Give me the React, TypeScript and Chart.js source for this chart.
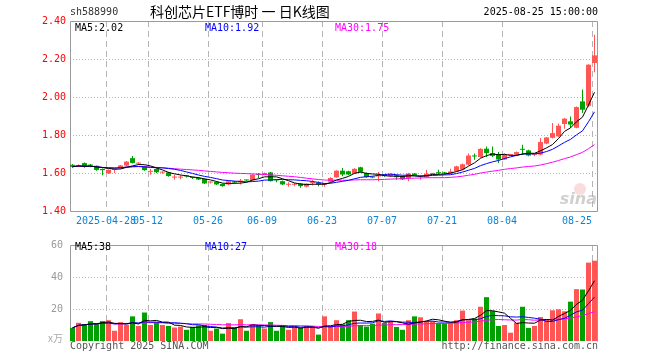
import { useEffect, useRef } from "react";
import { Chart, registerables } from "chart.js";

Chart.register(...registerables);

// ---------- data ----------
const dates: string[] = [
  "2025-04-18", "2025-04-21", "2025-04-22", "2025-04-23", "2025-04-24", "2025-04-25",
  "2025-04-28", "2025-04-29", "2025-04-30",
  "2025-05-06", "2025-05-07", "2025-05-08", "2025-05-09",
  "2025-05-12", "2025-05-13", "2025-05-14", "2025-05-15", "2025-05-16",
  "2025-05-19", "2025-05-20", "2025-05-21", "2025-05-22", "2025-05-23",
  "2025-05-26", "2025-05-27", "2025-05-28", "2025-05-29", "2025-05-30",
  "2025-06-03", "2025-06-04", "2025-06-05", "2025-06-06",
  "2025-06-09", "2025-06-10", "2025-06-11", "2025-06-12", "2025-06-13",
  "2025-06-16", "2025-06-17", "2025-06-18", "2025-06-19", "2025-06-20",
  "2025-06-23", "2025-06-24", "2025-06-25", "2025-06-26", "2025-06-27",
  "2025-06-30", "2025-07-01", "2025-07-02", "2025-07-03", "2025-07-04",
  "2025-07-07", "2025-07-08", "2025-07-09", "2025-07-10", "2025-07-11",
  "2025-07-14", "2025-07-15", "2025-07-16", "2025-07-17", "2025-07-18",
  "2025-07-21", "2025-07-22", "2025-07-23", "2025-07-24", "2025-07-25",
  "2025-07-28", "2025-07-29", "2025-07-30", "2025-07-31", "2025-08-01",
  "2025-08-04", "2025-08-05", "2025-08-06", "2025-08-07", "2025-08-08",
  "2025-08-11", "2025-08-12", "2025-08-13", "2025-08-14", "2025-08-15",
  "2025-08-18", "2025-08-19", "2025-08-20", "2025-08-21", "2025-08-22",
  "2025-08-25",
];

const opens: number[] = [
  1.643, 1.635, 1.652, 1.641, 1.638, 1.621, 1.598, 1.616, 1.626, 1.639,
  1.678, 1.649, 1.635, 1.606, 1.621, 1.602, 1.603, 1.576, 1.576, 1.584,
  1.576, 1.574, 1.569, 1.550, 1.553, 1.542, 1.540, 1.556, 1.555, 1.563,
  1.562, 1.592, 1.590, 1.603, 1.563, 1.557, 1.538, 1.538, 1.544, 1.528,
  1.547, 1.548, 1.538, 1.554, 1.577, 1.612, 1.609, 1.597, 1.630, 1.600,
  1.578, 1.582, 1.587, 1.583, 1.588, 1.583, 1.574, 1.597, 1.582, 1.578,
  1.595, 1.601, 1.602, 1.597, 1.609, 1.618, 1.644, 1.689, 1.684, 1.728,
  1.705, 1.700, 1.671, 1.695, 1.697, 1.724, 1.719, 1.695, 1.697, 1.755,
  1.785, 1.793, 1.858, 1.872, 1.838, 1.977, 1.954, 2.179,
];

const highs: number[] = [
  1.648, 1.645, 1.655, 1.647, 1.640, 1.624, 1.619, 1.621, 1.642, 1.663,
  1.690, 1.656, 1.638, 1.621, 1.624, 1.609, 1.606, 1.591, 1.588, 1.588,
  1.580, 1.577, 1.571, 1.557, 1.556, 1.545, 1.560, 1.558, 1.569, 1.565,
  1.594, 1.600, 1.602, 1.605, 1.569, 1.560, 1.551, 1.548, 1.547, 1.546,
  1.565, 1.557, 1.548, 1.577, 1.615, 1.626, 1.612, 1.625, 1.633, 1.603,
  1.582, 1.605, 1.590, 1.598, 1.591, 1.586, 1.600, 1.600, 1.588, 1.617,
  1.600, 1.617, 1.605, 1.623, 1.638, 1.650, 1.702, 1.702, 1.730, 1.740,
  1.740, 1.710, 1.702, 1.700, 1.713, 1.749, 1.722, 1.700, 1.784, 1.790,
  1.863, 1.860, 1.889, 1.898, 1.950, 2.039, 2.172, 2.328,
];

const lows: number[] = [
  1.628, 1.632, 1.628, 1.630, 1.612, 1.588, 1.595, 1.600, 1.622, 1.636,
  1.650, 1.642, 1.612, 1.591, 1.600, 1.596, 1.580, 1.565, 1.567, 1.576,
  1.568, 1.563, 1.542, 1.545, 1.537, 1.527, 1.535, 1.545, 1.540, 1.557,
  1.560, 1.574, 1.588, 1.555, 1.551, 1.537, 1.527, 1.530, 1.522, 1.525,
  1.534, 1.530, 1.527, 1.550, 1.575, 1.583, 1.588, 1.595, 1.603, 1.575,
  1.572, 1.557, 1.580, 1.580, 1.565, 1.563, 1.557, 1.585, 1.565, 1.575,
  1.592, 1.591, 1.592, 1.595, 1.606, 1.615, 1.640, 1.670, 1.680, 1.684,
  1.684, 1.653, 1.668, 1.692, 1.694, 1.696, 1.688, 1.688, 1.694, 1.751,
  1.781, 1.790, 1.833, 1.837, 1.835, 1.916, 1.947, 2.130,
];

const closes: number[] = [
  1.633, 1.641, 1.632, 1.639, 1.616, 1.615, 1.617, 1.617, 1.640, 1.660,
  1.653, 1.651, 1.615, 1.608, 1.604, 1.604, 1.584, 1.578, 1.578, 1.582,
  1.574, 1.566, 1.545, 1.552, 1.540, 1.531, 1.556, 1.550, 1.557, 1.561,
  1.591, 1.590, 1.600, 1.557, 1.561, 1.540, 1.540, 1.540, 1.531, 1.544,
  1.549, 1.540, 1.540, 1.574, 1.612, 1.592, 1.592, 1.622, 1.606, 1.578,
  1.576, 1.584, 1.585, 1.595, 1.578, 1.566, 1.597, 1.589, 1.584, 1.596,
  1.597, 1.599, 1.598, 1.608, 1.635, 1.646, 1.692, 1.687, 1.727, 1.705,
  1.690, 1.671, 1.699, 1.697, 1.710, 1.722, 1.692, 1.697, 1.763, 1.787,
  1.810, 1.849, 1.886, 1.855, 1.947, 1.933, 2.170, 2.219,
];

// volume in 万手
const volumes: number[] = [
  8.2, 11.4, 10.6, 12.4, 11.0, 12.4, 13.0, 6.4, 11.8, 10.2,
  15.4, 9.4, 17.8, 10.0, 11.8, 10.0, 9.4, 8.4, 9.0, 7.0,
  8.8, 9.8, 10.0, 6.4, 7.8, 4.6, 11.2, 8.4, 13.6, 6.4,
  10.6, 9.8, 7.8, 11.8, 6.4, 9.4, 7.0, 8.8, 8.4, 9.4,
  9.4, 4.0, 15.4, 9.4, 13.0, 10.4, 13.0, 18.4, 10.0, 9.0,
  10.8, 17.2, 11.2, 12.4, 8.8, 7.0, 13.0, 15.4, 14.8, 12.4,
  12.4, 11.2, 11.2, 11.2, 13.0, 19.0, 13.0, 14.0, 21.4, 27.4,
  18.8, 9.4, 10.0, 5.2, 11.4, 21.4, 8.2, 9.4, 15.0, 13.4,
  19.2, 19.8, 18.6, 24.6, 32.4, 32.2, 49.0, 50.2,
];

const priceTicks: number[] = [1.4, 1.6, 1.8, 2.0, 2.2, 2.4];
const volumeTicks: number[] = [0, 20, 40, 60];
const axisDates: string[] = [
  "2025-04-28", "2025-05-12", "2025-05-26", "2025-06-09", "2025-06-23",
  "2025-07-07", "2025-07-21", "2025-08-04", "2025-08-25",
];
const axisLabels: string[] = [
  "2025-04-28", "05-12", "05-26", "06-09", "06-23", "07-07", "07-21", "08-04", "08-25",
];

const symbol = "sh588990";
const title = "科创芯片ETF博时 一 日K线图";
const stamp = "2025-08-25 15:00:00";
const volumeUnit = "x万";

// ---------- styling ----------
const UP = "#ff5555";
const DOWN = "#00a000";
const MONO = '"DejaVu Sans Mono", monospace';
const CJK = '"Noto Sans CJK SC", sans-serif';
const HALF = 2.5 / 6;
const MA_COLORS = ["#000000", "#0000ff", "#ff00ff"];

function movingAverage(values: number[], n: number): number[] {
  return values.map((_, i) => {
    const s = Math.max(0, i - n + 1);
    let sum = 0;
    for (let j = s; j <= i; j++) sum += values[j];
    return sum / (i - s + 1);
  });
}

const candleColors = closes.map((c, i) => (c >= opens[i] ? UP : DOWN));
const gridIdx = axisDates.map((d) => dates.indexOf(d));

const pMA = [5, 10, 30].map((n) => movingAverage(closes, n));
const vMA = [5, 10, 30].map((n) => movingAverage(volumes, n));

function xScale(display: boolean): any {
  return {
    type: "linear",
    min: -HALF,
    max: dates.length - 1 + HALF,
    bounds: "data",
    offset: false,
    display,
    grid: { display: false, drawTicks: false },
    border: { display: false },
    afterBuildTicks: (s: any) => {
      s.ticks = gridIdx.map((i) => ({ value: i - HALF }));
    },
    afterFit: (s: any) => {
      s.height = display ? 21 : 0;
    },
    ticks: {
      autoSkip: false,
      maxRotation: 0,
      minRotation: 0,
      padding: 4,
      color: "#0b84d6",
      font: { family: MONO, size: 10 },
      callback: (_v: any, i: number) =>
        i === axisLabels.length - 1 ? axisLabels[i] + "     " : axisLabels[i],
    },
  };
}

function gridPlugin(hValues: number[], drawBottom: boolean, extra?: (chart: any) => void) {
  return {
    id: "sinaGrid",
    beforeDatasetsDraw(chart: any) {
      const { ctx, chartArea: a, scales } = chart;
      ctx.save();
      ctx.lineWidth = 1;
      if (extra) extra(chart);
      ctx.strokeStyle = "#b4b4b4";
      ctx.setLineDash([1, 2]);
      for (const v of hValues) {
        const y = Math.round(scales.y.getPixelForValue(v)) + 0.5;
        ctx.beginPath();
        ctx.moveTo(a.left, y);
        ctx.lineTo(a.right, y);
        ctx.stroke();
      }
      ctx.setLineDash([6, 4]);
      for (const i of gridIdx) {
        const x = Math.round(scales.x.getPixelForValue(i - HALF)) + 0.5;
        ctx.beginPath();
        ctx.moveTo(x, a.top);
        ctx.lineTo(x, a.bottom);
        ctx.stroke();
      }
      ctx.setLineDash([]);
      ctx.strokeStyle = "#9a9a9a";
      ctx.beginPath();
      const l = Math.round(a.left) + 0.5;
      const r = Math.round(a.right) + 0.5;
      const t = Math.round(a.top) + 0.5;
      const b = Math.round(a.bottom) + 0.5;
      ctx.moveTo(l, b);
      ctx.lineTo(l, t);
      ctx.lineTo(r, t);
      ctx.lineTo(r, b);
      if (drawBottom) ctx.lineTo(l, b);
      ctx.stroke();
      ctx.restore();
    },
  };
}

function lineSet(values: number[], color: string) {
  return {
    type: "line" as const,
    data: values.map((y, i) => ({ x: i, y })),
    borderColor: color,
    borderWidth: 1,
    pointRadius: 0,
    tension: 0,
    order: 0,
  };
}

function barSet(values: any[], thickness: number, order: number) {
  return {
    type: "bar" as const,
    data: values,
    backgroundColor: candleColors,
    borderWidth: 0,
    barThickness: thickness,
    minBarLength: 1,
    grouped: false,
    inflateAmount: 0,
    order,
  };
}

export default function App() {
  const priceRef = useRef<HTMLCanvasElement>(null);
  const volRef = useRef<HTMLCanvasElement>(null);

  useEffect(() => {
    const last = dates.length - 1;

    const priceHeader = {
      id: "priceHeader",
      afterDraw(chart: any) {
        const { ctx } = chart;
        ctx.save();
        ctx.textBaseline = "middle";
        ctx.fillStyle = "#333";
        ctx.font = `10px ${MONO}`;
        ctx.textAlign = "left";
        ctx.fillText(symbol, 70, 12);
        ctx.fillStyle = "#000";
        ctx.font = `14px ${CJK}`;
        ctx.fillText(title, 150, 12);
        ctx.font = `10px ${MONO}`;
        ctx.textAlign = "right";
        ctx.fillText(stamp, 598, 12);
        ctx.textAlign = "left";
        const labels = ["MA5", "MA10", "MA30"];
        const xs = [75, 205, 335];
        labels.forEach((lb, k) => {
          ctx.fillStyle = MA_COLORS[k];
          ctx.fillText(`${lb}:${pMA[k][last].toFixed(2)}`, xs[k], 28);
        });
        ctx.restore();
      },
    };

    const watermark = (chart: any) => {
      const { ctx } = chart;
      ctx.save();
      ctx.fillStyle = "rgba(230,120,120,0.25)";
      ctx.beginPath();
      ctx.arc(580, 189, 6, 0, Math.PI * 2);
      ctx.fill();
      ctx.fillStyle = "rgba(150,150,150,0.45)";
      ctx.font = `italic bold 16px "DejaVu Sans", sans-serif`;
      ctx.textAlign = "right";
      ctx.textBaseline = "alphabetic";
      ctx.fillText("sina", 597, 204);
      ctx.restore();
    };

    const c1 = new Chart(priceRef.current as HTMLCanvasElement, {
      type: "bar",
      data: {
        datasets: [
          lineSet(pMA[0], MA_COLORS[0]),
          lineSet(pMA[1], MA_COLORS[1]),
          lineSet(pMA[2], MA_COLORS[2]),
          barSet(opens.map((o, i) => ({ x: i, y: [o, closes[i]] })), 5, 1),
          barSet(lows.map((l, i) => ({ x: i, y: [l, highs[i]] })), 1, 2),
        ] as any,
      },
      options: {
        animation: false,
        responsive: false,
        devicePixelRatio: 1,
        events: [],
        layout: { padding: { top: 21, right: 63, bottom: 0, left: 0 } },
        plugins: { legend: { display: false }, tooltip: { enabled: false } },
        scales: {
          x: xScale(true),
          y: {
            type: "linear",
            min: priceTicks[0],
            max: priceTicks[priceTicks.length - 1],
            grid: { display: false, drawTicks: false },
            border: { display: false },
            afterBuildTicks: (s: any) => {
              s.ticks = priceTicks.map((v) => ({ value: v }));
            },
            afterFit: (s: any) => {
              s.width = 70;
            },
            ticks: {
              padding: 4,
              color: "#ff0000",
              font: { family: MONO, size: 10 },
              callback: (v: any) => Number(v).toFixed(2),
            },
          },
        } as any,
      },
      plugins: [
        gridPlugin(priceTicks.slice(1, -1), true, watermark),
        priceHeader,
      ],
    });

    const volHeader = {
      id: "volHeader",
      afterDraw(chart: any) {
        const { ctx } = chart;
        ctx.save();
        ctx.textBaseline = "middle";
        ctx.font = `10px ${MONO}`;
        ctx.textAlign = "left";
        const labels = ["MA5", "MA10", "MA30"];
        const xs = [75, 205, 335];
        labels.forEach((lb, k) => {
          ctx.fillStyle = MA_COLORS[k];
          ctx.fillText(`${lb}:${vMA[k][last].toFixed(0)}`, xs[k], 15);
        });
        ctx.fillStyle = "#555";
        ctx.fillText("Copyright 2025 SINA.COM", 70, 114);
        ctx.textAlign = "right";
        ctx.fillText("http://finance.sina.com.cn", 598, 114);
        ctx.fillStyle = "#aaa";
        ctx.font = `10px ${CJK}`;
        ctx.fillText(volumeUnit, 63, 106);
        ctx.restore();
      },
    };

    const c2 = new Chart(volRef.current as HTMLCanvasElement, {
      type: "bar",
      data: {
        datasets: [
          lineSet(vMA[0], MA_COLORS[0]),
          lineSet(vMA[1], MA_COLORS[1]),
          lineSet(vMA[2], MA_COLORS[2]),
          barSet(volumes.map((v, i) => ({ x: i, y: v })), 5, 1),
        ] as any,
      },
      options: {
        animation: false,
        responsive: false,
        devicePixelRatio: 1,
        events: [],
        layout: { padding: { top: 8, right: 63, bottom: 19, left: 0 } },
        plugins: { legend: { display: false }, tooltip: { enabled: false } },
        scales: {
          x: xScale(false),
          y: {
            type: "linear",
            min: volumeTicks[0],
            max: volumeTicks[volumeTicks.length - 1],
            grid: { display: false, drawTicks: false },
            border: { display: false },
            afterBuildTicks: (s: any) => {
              s.ticks = volumeTicks.map((v) => ({ value: v }));
            },
            afterFit: (s: any) => {
              s.width = 70;
            },
            ticks: {
              padding: 7,
              color: "#999",
              font: { family: MONO, size: 10 },
              callback: (v: any) => (Number(v) === 0 ? "" : String(v)),
            },
          },
        } as any,
      },
      plugins: [gridPlugin(volumeTicks.slice(1, -1), false), volHeader],
    });

    return () => {
      c1.destroy();
      c2.destroy();
    };
  }, []);

  return (
    <div
      style={{
        position: "absolute",
        left: 0,
        top: 0,
        width: 660,
        height: 360,
        background: "#fff",
      }}
    >
      <canvas
        ref={priceRef}
        width={660}
        height={232}
        style={{ position: "absolute", left: 0, top: 0 }}
      />
      <canvas
        ref={volRef}
        width={660}
        height={128}
        style={{ position: "absolute", left: 0, top: 232 }}
      />
    </div>
  );
}
